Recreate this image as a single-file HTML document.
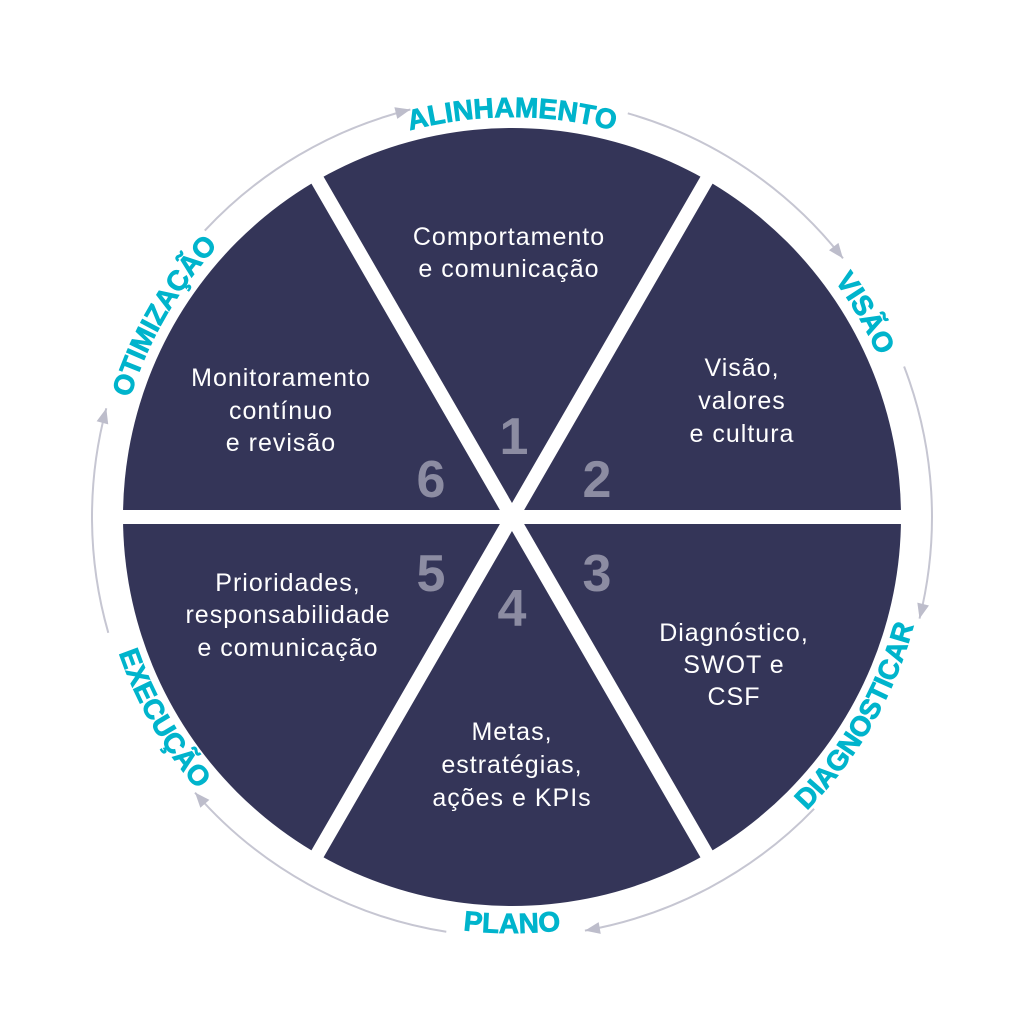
<!DOCTYPE html>
<html><head><meta charset="utf-8"><style>
html,body{margin:0;padding:0;background:#fff;}
svg{display:block;}
.lbl{font-family:"Liberation Sans",sans-serif;font-weight:bold;font-size:28px;fill:#00b4cc;stroke:#00b4cc;stroke-width:0.8px;}
.st{font-family:"Liberation Sans",sans-serif;font-size:25px;letter-spacing:1px;fill:#fff;text-anchor:middle;}
.num{font-family:"Liberation Sans",sans-serif;font-weight:bold;font-size:52px;fill:#8c8ca2;text-anchor:middle;}
</style></head><body>
<svg width="1024" height="1024" viewBox="0 0 1024 1024" xmlns="http://www.w3.org/2000/svg">
<defs>
<path id="pA" d="M 229.2 234.2 A 400 400 0 0 1 794.8 234.2"/>
<path id="pV" d="M 712 170.6 A 400 400 0 0 1 912 517"/>
<path id="pO" d="M 112 517 A 400 400 0 0 1 312 170.6"/>
<path id="pP" d="M 217.8 811.2 A 416 416 0 0 0 806.2 811.2"/>
<path id="pD" d="M 720 877.3 A 416 416 0 0 0 928 517"/>
<path id="pE" d="M 96 517 A 416 416 0 0 0 304 877.3"/>
</defs>
<g fill="none" stroke="#c6c6d2" stroke-width="2">
<path d="M 627.8 113.3 A 420 420 0 0 1 843.0 258.4"/>
<path d="M 904.1 366.5 A 420 420 0 0 1 919.5 618.6"/>
<path d="M 814.1 808.8 A 420 420 0 0 1 584.9 930.6"/>
<path d="M 446.3 931.8 A 420 420 0 0 1 195.0 792.6"/>
<path d="M 108.3 632.8 A 420 420 0 0 1 106.3 408.3"/>
<path d="M 204.8 230.6 A 420 420 0 0 1 410.4 109.5"/>
</g>
<circle cx="512" cy="517" r="389" fill="#343558"/>
<g stroke="#fff" stroke-width="14">
<line x1="100" y1="517" x2="924" y2="517"/>
<line x1="306" y1="160.2" x2="718" y2="873.8"/>
<line x1="718" y1="160.2" x2="306" y2="873.8"/>
</g>
<text class="lbl"><textPath href="#pA" startOffset="50%" text-anchor="middle">ALINHAMENTO</textPath></text>
<text class="lbl"><textPath href="#pV" startOffset="50%" text-anchor="middle">VISÃO</textPath></text>
<text class="lbl"><textPath href="#pO" startOffset="50%" text-anchor="middle">OTIMIZAÇÃO</textPath></text>
<text class="lbl"><textPath href="#pP" startOffset="50%" text-anchor="middle">PLANO</textPath></text>
<text class="lbl"><textPath href="#pD" startOffset="50%" text-anchor="middle">DIAGNOSTICAR</textPath></text>
<text class="lbl"><textPath href="#pE" startOffset="50%" text-anchor="middle">EXECUÇÃO</textPath></text>
<g fill="#bdbdcb">
<g transform="translate(512 517) rotate(-104) translate(420 0) rotate(90)"><polygon points="0,0 -15,-6 -15,6"/></g>
<g transform="translate(512 517) rotate(-38) translate(420 0) rotate(90)"><polygon points="0,0 -15,-6 -15,6"/></g>
<g transform="translate(512 517) rotate(14) translate(420 0) rotate(90)"><polygon points="0,0 -15,-6 -15,6"/></g>
<g transform="translate(512 517) rotate(80) translate(420 0) rotate(90)"><polygon points="0,0 -15,-6 -15,6"/></g>
<g transform="translate(512 517) rotate(139) translate(420 0) rotate(90)"><polygon points="0,0 -15,-6 -15,6"/></g>
<g transform="translate(512 517) rotate(195) translate(420 0) rotate(90)"><polygon points="0,0 -15,-6 -15,6"/></g>
</g>
<text class="num" x="514" y="454">1</text>
<text class="num" x="597" y="497">2</text>
<text class="num" x="597" y="591">3</text>
<text class="num" x="512" y="626">4</text>
<text class="num" x="431" y="591">5</text>
<text class="num" x="431" y="497">6</text>
<text class="st" x="509" y="245">Comportamento</text>
<text class="st" x="509" y="277">e comunicação</text>
<text class="st" x="742" y="376">Visão,</text>
<text class="st" x="742" y="409">valores</text>
<text class="st" x="742" y="442">e cultura</text>
<text class="st" x="734" y="641">Diagnóstico,</text>
<text class="st" x="734" y="673">SWOT e</text>
<text class="st" x="734" y="705">CSF</text>
<text class="st" x="512" y="740">Metas,</text>
<text class="st" x="512" y="773">estratégias,</text>
<text class="st" x="512" y="806">ações e KPIs</text>
<text class="st" x="288" y="591">Prioridades,</text>
<text class="st" x="288" y="623">responsabilidade</text>
<text class="st" x="288" y="656">e comunicação</text>
<text class="st" x="281" y="386">Monitoramento</text>
<text class="st" x="281" y="419">contínuo</text>
<text class="st" x="281" y="451">e revisão</text>
</svg>
</body></html>
